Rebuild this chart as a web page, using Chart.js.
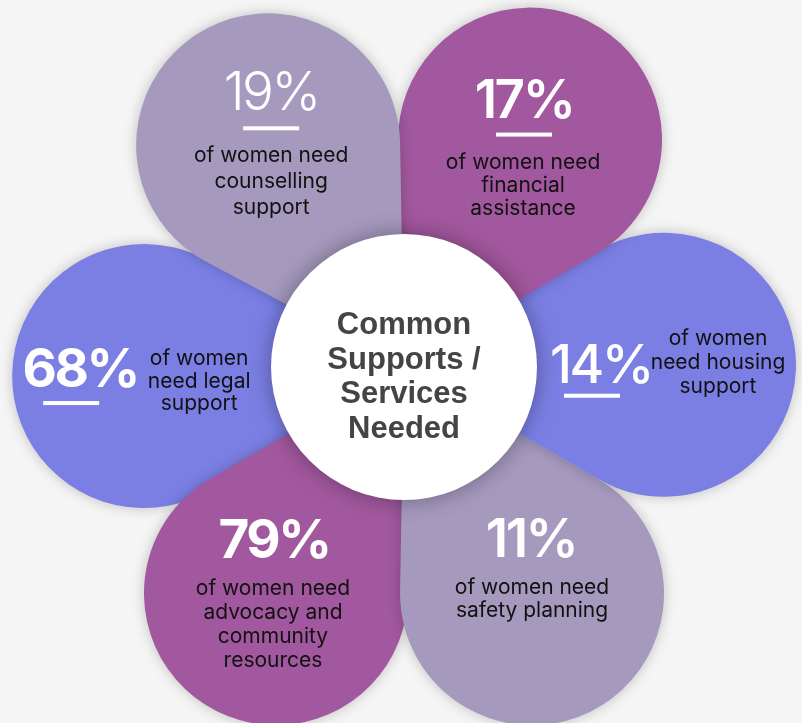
<!DOCTYPE html>
<html>
<head>
<meta charset="utf-8">
<title>Common Supports / Services Needed</title>
<script src="https://cdn.jsdelivr.net/npm/chart.js@4.4.1/dist/chart.umd.min.js"></script>
<style>
  html, body { margin: 0; padding: 0; background: #f5f5f5; }
  #wrap { width: 802px; height: 723px; position: relative; }
</style>
</head>
<body>
<div id="wrap"><canvas id="flower"></canvas></div>
<script>
// Petals, clockwise from the top-left one
const percents = [19, 17, 14, 11, 79, 68];
const captions = [
  ['of women need', 'counselling', 'support'],
  ['of women need', 'financial', 'assistance'],
  ['of women', 'need housing', 'support'],
  ['of women need', 'safety planning'],
  ['of women need', 'advocacy and', 'community', 'resources'],
  ['of women', 'need legal', 'support']
];
const centerTitle = ['Common', 'Supports /', 'Services', 'Needed'];

// petal placement around the hub, degrees with the y axis up
const petalAngles = [121.5, 61, 0.5, -60.5, -119.5, 182];

// styling per petal
const petalColors = ['#a599be', '#a2589e', '#7b7fe4', '#a599be', '#a2589e', '#7b7fe4'];
const pctWeights = [300, 600, 500, 600, 700, 700];
const underlined = [true, true, true, false, false, true];
// text offsets from the petal centre (px)
const textLayout = [
  { pct: [3, -35], bar: [3, -17], cap: [3, 10], lh: 26 },
  { pct: [-6, -22], bar: [-6, -5], cap: [-7, 23], lh: 23 },
  { pct: [-63, 18], bar: [-72, 31], cap: [54, -26], lh: 24 },
  { pct: [-1, -36], bar: null, cap: [0, -6], lh: 23 },
  { pct: [-2, -35], bar: null, cap: [-3, -5], lh: 24 },
  { pct: [-64, 11], bar: [-73, 27], cap: [55, -17], lh: 22.5 }
];
// draw order (bottom first) so each petal overlaps its neighbour
const drawOrder = [5, 4, 3, 2, 1, 0];

const UNIT = 260;          // px per axis unit
const PETAL_R = 132 / UNIT;
const HUB_R = 133 / UNIT;

const points = petalAngles.map(a => ({
  x: Math.cos(a * Math.PI / 180),
  y: Math.sin(a * Math.PI / 180)
}));

// teardrop: tangent lines from the hub centre wrapped round a circle
function petalPath(ctx, cx, cy, px, py, r) {
  const dx = px - cx, dy = py - cy;
  const d = Math.hypot(dx, dy);
  const a = Math.atan2(dy, dx);
  const b = Math.asin(Math.min(r / d, 1));
  const L = Math.sqrt(d * d - r * r);
  ctx.beginPath();
  ctx.moveTo(cx, cy);
  ctx.lineTo(cx + L * Math.cos(a - b), cy + L * Math.sin(a - b));
  ctx.arc(px, py, r, a - b - Math.PI / 2, a + b + Math.PI / 2, false);
  ctx.closePath();
}

const flowerPlugin = {
  id: 'flower',
  afterDatasetsDraw(chart) {
    const ctx = chart.ctx;
    const xs = chart.scales.x, ys = chart.scales.y;
    const cx = xs.getPixelForValue(0), cy = ys.getPixelForValue(0);
    const unitPx = xs.getPixelForValue(1) - cx;
    const meta = chart.getDatasetMeta(0);
    const r = PETAL_R * unitPx;

    // petals
    drawOrder.forEach(i => {
      const p = meta.data[i];
      ctx.save();
      ctx.shadowColor = 'rgba(0,0,0,0.22)';
      ctx.shadowBlur = 13;
      petalPath(ctx, cx, cy, p.x, p.y, r);
      ctx.fillStyle = petalColors[i];
      ctx.fill();
      ctx.restore();
    });

    // petal texts
    ctx.save();
    ctx.textAlign = 'center';
    meta.data.forEach((p, i) => {
      const t = textLayout[i];
      ctx.fillStyle = '#ffffff';
      ctx.textBaseline = 'alphabetic';
      ctx.font = pctWeights[i] + ' 53px Inter';
      ctx.letterSpacing = '-2.5px';
      ctx.fillText(percents[i] + '%', p.x + t.pct[0], p.y + t.pct[1]);
      ctx.letterSpacing = '0px';
      if (underlined[i] && t.bar) {
        ctx.fillRect(p.x + t.bar[0] - 28, p.y + t.bar[1] - 2, 56, 4);
      }
      ctx.fillStyle = '#111111';
      ctx.textBaseline = 'middle';
      ctx.font = '400 21px Inter';
      captions[i].forEach((line, k) => {
        ctx.fillText(line, p.x + t.cap[0], p.y + t.cap[1] + k * t.lh);
      });
    });
    ctx.restore();

    // central hub
    ctx.save();
    ctx.shadowColor = 'rgba(0,0,0,0.35)';
    ctx.shadowBlur = 22;
    ctx.beginPath();
    ctx.arc(cx, cy, HUB_R * unitPx, 0, Math.PI * 2);
    ctx.fillStyle = '#ffffff';
    ctx.fill();
    ctx.restore();

    ctx.save();
    ctx.fillStyle = '#444444';
    ctx.textAlign = 'center';
    ctx.textBaseline = 'alphabetic';
    ctx.font = 'bold 31px "Liberation Sans", Arial, sans-serif';
    centerTitle.forEach((line, k) => {
      ctx.fillText(line, cx, cy - 33 + k * 34.5);
    });
    ctx.restore();
  }
};

new Chart(document.getElementById('flower'), {
  type: 'scatter',
  data: {
    datasets: [{
      data: points,
      pointRadius: 0,
      pointHoverRadius: 0
    }]
  },
  options: {
    responsive: true,
    maintainAspectRatio: false,
    animation: false,
    layout: { padding: 0 },
    plugins: { legend: { display: false }, tooltip: { enabled: false } },
    scales: {
      x: { display: false, min: -404 / UNIT, max: 398 / UNIT },
      y: { display: false, min: -(723 - 367) / UNIT, max: 367 / UNIT }
    }
  },
  plugins: [flowerPlugin]
});
</script>
</body>
</html>
